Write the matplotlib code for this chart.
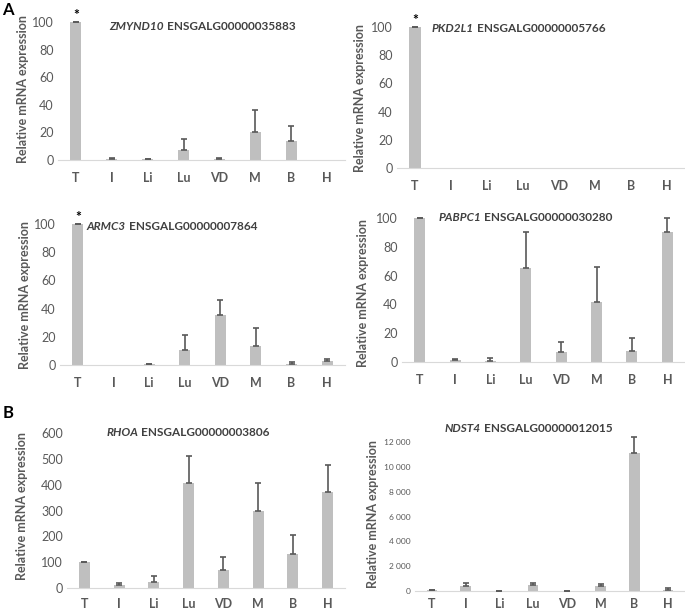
"""
Expresión relativa de ARNm por tejido (paneles A y B).
"""

import matplotlib.pyplot as plt
from matplotlib.ticker import FuncFormatter

tejidos = ["T", "I", "Li", "Lu", "VD", "M", "B", "H"]

zmynd10 = [100, 1, 0.8, 7.5, 1, 20.5, 14, 0]
zmynd10_err = [0, 0.2, 0.1, 7.5, 0.3, 15.5, 11, 0]

pkd2l1 = [100, 0, 0, 0, 0, 0, 0, 0]
pkd2l1_err = [0, 0, 0, 0, 0, 0, 0, 0]

armc3 = [100, 0, 0.5, 10.5, 35.5, 13.5, 1, 2.5]
armc3_err = [0, 0, 0, 11, 10.5, 12.5, 1, 1.5]

pabpc1 = [100, 1.5, 0.5, 65, 7, 42, 7.5, 90.5]
pabpc1_err = [0, 0.5, 2, 25.5, 7, 24, 9.5, 9.5]

rhoa = [100, 12, 25, 405, 70, 300, 132, 370]
rhoa_err = [1, 8, 20, 105, 50, 105, 73, 108]

ndst4 = [80, 400, 30, 450, 20, 380, 11100, 120]
ndst4_err = [30, 220, 10, 230, 10, 210, 1300, 100]

W, H = 685, 611
BARRA = "#bfbfbf"
ERROR = "#595959"
TEXTO = "#595959"
TITULO = "#404040"

plt.rcParams["font.family"] = ["Lato", "DejaVu Sans"]

fig = plt.figure(figsize=(W / 100, H / 100), dpi=100)


def px(x, y):
    return x / W, 1 - y / H


def panel(izq, der, y_cero, y_top, ymax, paso, valores, errores,
          gen, ensg, x_corte, y_titulo, x_ylabel, y_ylabel,
          asterisco=False, miles=False, pad_x=8.5):
    ax = fig.add_axes([izq / W, 1 - y_cero / H, (der - izq) / W, (y_cero - y_top) / H])
    xs = list(range(len(tejidos)))
    ax.bar(xs, valores, width=0.31, color=BARRA, zorder=2)
    # barras de error solo hacia arriba y solo donde hay barra
    con_barra = [i for i in xs if valores[i] > 0]
    ax.errorbar(con_barra, [valores[i] for i in con_barra],
                yerr=[[0] * len(con_barra), [errores[i] for i in con_barra]],
                fmt="none", ecolor=ERROR, elinewidth=1.2, capsize=2.5, capthick=1.2,
                clip_on=False, zorder=3)
    ax.set_xlim(-0.5, len(tejidos) - 0.5)
    ax.set_ylim(0, ymax)
    ax.set_yticks(range(0, ymax + 1, paso))
    ax.set_xticks(xs)
    ax.set_xticklabels(tejidos, fontweight="bold")
    for lado in ["top", "right", "left"]:
        ax.spines[lado].set_visible(False)
    ax.spines["bottom"].set_color("#d9d9d9")
    ax.tick_params(axis="both", length=0, colors=TEXTO)
    ax.tick_params(axis="x", pad=pad_x, labelsize=9)
    ax.tick_params(axis="y", pad=3, labelsize=6 if miles else 9)
    if miles:
        ax.yaxis.set_major_formatter(
            FuncFormatter(lambda v, p: f"{int(v):,}".replace(",", " ")))
    if asterisco:
        ax.annotate("*", (0, valores[0]), xytext=(0, 1), textcoords="offset points",
                    ha="center", va="bottom", fontsize=10, fontweight="bold",
                    color="black", annotation_clip=False)
    # título: nombre del gen en cursiva + identificador Ensembl
    fig.text(*px(x_corte, y_titulo), gen, ha="right", va="center",
             fontsize=8.5, fontweight="bold", fontstyle="italic", color=TITULO)
    fig.text(*px(x_corte + 3, y_titulo), ensg, ha="left", va="center",
             fontsize=8.5, fontweight="bold", color=TITULO)
    fig.text(*px(x_ylabel, y_ylabel), "Relative mRNA expression", rotation=90,
             ha="center", va="center", fontsize=9, fontweight="bold", color=TEXTO)
    return ax


panel(58, 345, 160, 22, 100, 20, zmynd10, zmynd10_err,
      "ZMYND10", "ENSGALG00000035883", 164, 27, 23, 89, asterisco=True)
panel(397, 685, 168, 27, 100, 20, pkd2l1, pkd2l1_err,
      "PKD2L1", "ENSGALG00000005766", 474, 29, 360, 98, asterisco=True)
panel(60, 345, 365, 224, 100, 20, armc3, armc3_err,
      "ARMC3", "ENSGALG00000007864", 126, 227, 25, 295, asterisco=True)
panel(402, 685, 362, 218, 100, 20, pabpc1, pabpc1_err,
      "PABPC1", "ENSGALG00000030280", 481, 218, 363, 293)
panel(67, 345, 588, 433, 600, 100, rhoa, rhoa_err,
      "RHOA", "ENSGALG00000003806", 138, 433, 22, 506, pad_x=7)
panel(415, 685, 591, 442, 12000, 2000, ndst4, ndst4_err,
      "NDST4", "ENSGALG00000012015", 481, 428, 373, 514, miles=True, pad_x=5)

fig.text(*px(8, 10), "A", ha="center", va="center", fontsize=12, fontweight="bold")
fig.text(*px(8, 413), "B", ha="center", va="center", fontsize=12, fontweight="bold")

fig.savefig("out.png", dpi=100)
